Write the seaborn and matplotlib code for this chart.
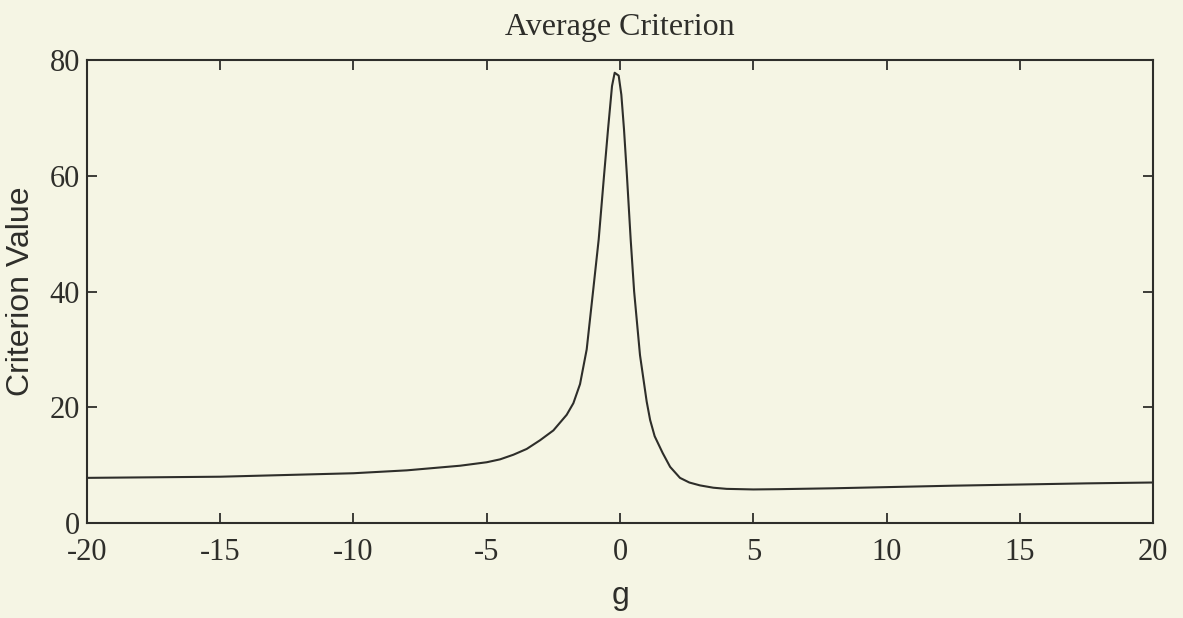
import matplotlib
matplotlib.use("Agg")
import matplotlib.pyplot as plt
import seaborn as sns
import pandas as pd

# Average criterion versus gain g
g_values = [-20, -17.5, -15, -12.5, -10, -8, -7, -6, -5, -4.5, -4, -3.5, -3, -2.5,
            -2, -1.75, -1.5, -1.25, -1, -0.8, -0.6, -0.45, -0.3, -0.2, -0.05, 0.05,
            0.15, 0.26, 0.4, 0.53, 0.75, 1.0, 1.13, 1.3, 1.6, 1.88, 2.25, 2.6, 3,
            3.5, 4, 5, 6, 8, 10, 12.5, 15, 17.5, 20]
criterion = [7.8, 7.9, 8.0, 8.3, 8.6, 9.1, 9.5, 9.9, 10.5, 11.0, 11.8, 12.8, 14.3,
             16.0, 18.7, 20.7, 24.0, 30.0, 40.5, 49.0, 60.0, 68.0, 75.5, 77.8, 77.3,
             74.0, 68.0, 60.0, 49.0, 40.0, 29.0, 21.0, 17.8, 15.0, 12.1, 9.7, 7.8,
             7.0, 6.5, 6.1, 5.9, 5.8, 5.85, 6.0, 6.2, 6.45, 6.65, 6.85, 7.0]

x_ticks = [-20, -15, -10, -5, 0, 5, 10, 15, 20]
y_ticks = [0, 20, 40, 60, 80]

df = pd.DataFrame({"g": g_values, "value": criterion})

sns.set_style("white")
bg = "#f5f5e4"
ink = "#2e2e2a"

fig = plt.figure(figsize=(11.83, 6.18), dpi=100, facecolor=bg)
ax = fig.add_axes([0.0735, 0.1537, 0.9012, 0.7492])
ax.set_facecolor(bg)

sns.lineplot(data=df, x="g", y="value", ax=ax, color=ink, linewidth=1.5)

ax.set_xlim(-20, 20)
ax.set_ylim(0, 80)
ax.set_xticks(x_ticks)
ax.set_yticks(y_ticks)
ax.set_xticklabels([str(t) for t in x_ticks], family="Liberation Serif", fontsize=22, color=ink)
ax.set_yticklabels([str(t) for t in y_ticks], family="Liberation Serif", fontsize=22, color=ink)
ax.tick_params(direction="in", length=7, width=1.3, color=ink, top=True, right=True,
               bottom=True, left=True)
ax.tick_params(axis="x", pad=11)
ax.tick_params(axis="y", pad=5)
for side in ax.spines.values():
    side.set_visible(True)
    side.set_color(ink)
    side.set_linewidth(1.5)

ax.set_xlabel("g", family="Liberation Sans", fontsize=23, color=ink, labelpad=10)
ax.set_ylabel("Criterion Value", family="Liberation Sans", fontsize=23, color=ink, labelpad=10)
ax.set_title("Average Criterion", family="Liberation Serif", fontsize=23, color=ink, pad=18)

fig.savefig("out.png", dpi=100, facecolor=bg)
